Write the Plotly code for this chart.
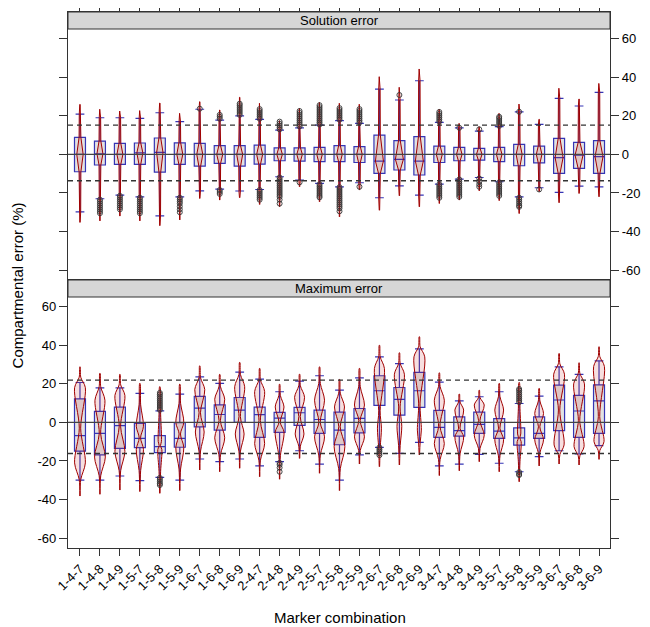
import plotly.graph_objects as go

# Marker combinations (x categories)
labels = ["1-4-7", "1-4-8", "1-4-9", "1-5-7", "1-5-8", "1-5-9", "1-6-7", "1-6-8", "1-6-9",
          "2-4-7", "2-4-8", "2-4-9", "2-5-7", "2-5-8", "2-5-9", "2-6-7", "2-6-8", "2-6-9",
          "3-4-7", "3-4-8", "3-4-9", "3-5-7", "3-5-8", "3-5-9", "3-6-7", "3-6-8", "3-6-9"]

# Solution error panel: box statistics
sol_q1 = [-9.0, -5.5, -5.2, -5.2, -9.2, -5.2, -6.1, -4.7, -6.1, -5.1, -3.3, -3.5, -3.8, -3.8,
          -4.2, -9.9, -8.1, -10.7, -4.2, -3.3, -3.0, -3.8, -5.9, -4.4, -9.9, -7.3, -9.9]
sol_med = [0.0, 0.3, 0.0, 0.8, 1.0, 0.0, 0.0, 0.0, 0.0, 0.0, 0.0, 0.0, 0.0, 0.0,
           0.0, -3.5, -2.6, -3.5, 0.0, 0.0, 0.0, 0.0, 0.0, 0.0, -1.7, -0.4, -1.2]
sol_q3 = [8.8, 6.9, 5.7, 5.9, 8.5, 6.0, 5.7, 4.5, 4.5, 4.8, 3.4, 3.4, 3.6, 4.5,
          4.0, 10.0, 7.1, 9.2, 4.3, 3.6, 3.1, 3.6, 5.2, 4.3, 8.3, 6.2, 7.1]
sol_lo = [-29.8, -23.0, -21.1, -22.0, -31.9, -22.0, -18.9, -18.0, -19.0, -18.2, -11.6, -13.4, -15.0, -16.8,
          -14.7, -22.5, -16.3, -21.1, -15.4, -12.8, -12.0, -14.2, -22.0, -17.3, -19.7, -16.5, -16.8]
sol_hi = [20.9, 19.0, 19.0, 18.7, 21.6, 17.0, 23.4, 17.8, 20.0, 18.2, 12.6, 13.8, 15.2, 17.5,
          16.1, 33.9, 28.2, 38.2, 16.6, 13.8, 12.1, 14.4, 22.1, 15.6, 29.1, 25.1, 32.2]
# violin extents and peak half-width
sol_vmin = [-35.3, -34.5, -32.0, -34.5, -37.0, -34.0, -22.9, -23.7, -22.5, -26.0, -27.2, -16.8, -24.6, -32.4,
            -18.5, -29.0, -21.5, -27.2, -25.5, -23.7, -18.9, -24.0, -30.7, -19.4, -25.1, -20.3, -22.0]
sol_vmax = [25.9, 23.4, 22.5, 22.7, 26.6, 21.3, 27.3, 23.0, 29.6, 26.5, 17.5, 23.9, 27.0, 26.5,
            26.0, 40.3, 34.8, 44.3, 23.5, 16.1, 14.4, 21.3, 26.1, 18.2, 34.3, 28.7, 36.8]
sol_vpeak = [0.16, 0.15, 0.15, 0.15, 0.16, 0.15, 0.15, 0.15, 0.15, 0.15, 0.14, 0.14, 0.14, 0.14,
             0.14, 0.2, 0.2, 0.2, 0.15, 0.14, 0.14, 0.14, 0.15, 0.14, 0.2, 0.2, 0.2]
sol_outliers = [
    [],
    [-23.5, -24.5, -25.5, -26.5, -27.5, -28.5, -29.5, -30.5],
    [-21.5, -22.5, -23.5, -24.5, -25.5, -26.5, -27.5, -28.5],
    [-22.5, -23.5, -24.5, -25.5, -26.5, -27.5, -28.5, -29.5, -30.5],
    [],
    [-22.5, -23.5, -24.5, -25.5, -27.0, -28.5, -30.0],
    [23.7],
    [18.5, 19.5, 20.5, -18.5, -19.5, -20.5],
    [20.5, 21.5, 22.5, 23.5, 24.5, 25.5, 26.3],
    [18.5, 19.5, 20.5, 21.5, 22.5, 23.5, -18.5, -19.5, -20.5, -21.5, -22.5, -23.5],
    [13.0, 14.0, 15.0, 16.0, 17.0, -12.0, -13.0, -14.0, -15.0, -16.0, -17.0, -18.0, -19.0,
     -20.0, -21.0, -22.0, -23.5, -25.5],
    [14.5, 15.5, 16.5, 17.5, 18.5, 19.5, 20.5, 21.5, 22.5, -14.5],
    [15.5, 16.5, 17.5, 18.5, 19.5, 20.5, 21.5, 22.5, 23.5, 24.5, 25.5,
     -15.5, -16.5, -17.5, -18.5, -19.5, -20.5, -21.5, -22.3],
    [18.0, 19.0, 20.0, 21.0, 22.0, 23.0, 24.0, -17.0, -18.0, -19.0, -20.0, -21.0, -22.0,
     -23.0, -24.0, -25.0, -26.0, -27.0, -28.0, -29.5],
    [16.5, 17.5, 18.5, 19.5, 20.5, 21.5, 22.5, 23.5, -16.8],
    [],
    [30.8],
    [],
    [17.0, 18.0, 19.0, 20.0, 21.0, 22.0, -15.5, -16.5, -17.5, -18.5, -19.5, -20.5, -21.5, -22.5],
    [13.8, -13.0, -14.0, -15.0, -16.0, -17.0, -18.0, -19.0, -20.0, -21.0, -22.0],
    [13.0, -12.5, -14.0, -15.5, -16.8],
    [14.8, 15.8, 16.8, 17.8, 18.8, 19.5, -14.5, -15.5, -16.5, -17.5, -18.5, -19.5, -20.5, -21.5],
    [22.1, -22.5, -23.5, -24.5, -25.5, -26.5, -27.2],
    [-18.2],
    [], [], [],
]

# Maximum error panel: box statistics
max_q1 = [-14.9, -16.8, -13.5, -13.1, -15.7, -12.9, -2.3, -4.0, 0.0, -7.8, -5.2, -1.6, -5.7, -11.6,
          -5.4, 8.8, 3.8, 7.8, -7.8, -7.1, -5.7, -8.3, -11.8, -8.3, -4.3, -7.8, -5.7]
max_med = [-6.9, -5.7, -1.7, -8.3, -12.6, -8.3, 7.4, 4.1, 6.4, 4.0, 2.2, 5.0, 1.5, -4.0,
           2.1, 16.4, 11.9, 16.4, -2.6, -4.3, -1.0, -4.5, -8.0, -5.7, 11.6, 5.9, 11.2]
max_q3 = [12.2, 5.7, 7.9, -0.5, -6.9, -0.2, 13.5, 9.1, 12.9, 7.9, 5.2, 7.8, 6.4, 5.3,
          7.2, 24.2, 18.1, 25.9, 6.2, 2.9, 5.3, 1.9, -2.8, 2.9, 19.3, 14.0, 19.5]
max_lo = [-29.9, -29.9, -27.8, -30.2, -28.5, -29.9, -19.0, -20.4, -19.0, -22.6, -20.4, -14.7, -21.6, -29.9,
          -16.9, -13.0, -16.1, -10.4, -22.6, -21.6, -16.6, -21.2, -25.6, -17.8, -14.7, -16.4, -12.1]
max_hi = [20.7, 17.9, 17.9, 15.0, 6.0, 14.7, 23.6, 20.2, 26.1, 22.4, 15.9, 21.4, 24.2, 16.7,
          23.1, 34.0, 30.5, 38.1, 20.9, 11.2, 13.3, 15.9, 9.8, 13.6, 28.8, 24.9, 31.9]
# violin extents and bulge positions / widths
max_vmin = [-38.2, -37.3, -35.1, -35.9, -36.8, -35.4, -24.7, -25.6, -23.8, -28.2, -29.5, -18.7, -26.4, -35.4,
            -21.6, -23.0, -22.1, -16.9, -27.6, -25.1, -20.4, -25.6, -30.8, -22.6, -21.6, -22.1, -19.2]
max_vmax = [28.8, 25.4, 24.9, 20.2, 18.5, 19.8, 29.3, 24.9, 31.1, 28.0, 19.8, 25.0, 28.8, 22.3,
            28.0, 40.0, 36.1, 44.4, 25.7, 14.7, 16.7, 20.2, 20.7, 17.6, 35.7, 30.9, 39.2]
max_bulge_hi = [18.0, 11.5, 14.0, -2.0, -10.0, 0.0, 17.0, 12.0, 18.5, 16.0, 8.0, 13.0, 11.5, 8.0,
                9.0, 28.0, 25.0, 34.0, 11.5, 6.4, 9.0, 6.4, -6.0, 4.6, 25.0, 20.0, 29.0]
max_pinch = [-3.0, -5.7, -2.0, -8.0, -12.0, -6.0, 5.0, 1.0, 3.0, 1.0, 0.0, 3.0, 0.0, -2.3,
             1.0, 6.0, 8.0, 10.0, -2.0, -3.0, 1.0, -3.0, -8.0, -2.3, 6.4, 1.0, 3.0]
max_bulge_lo = [-21.0, -18.0, -15.0, -14.0, -14.0, -13.0, -5.0, -8.0, -6.0, -11.0, -5.0, -6.0, -7.5, -12.6,
                -7.5, -3.0, -2.0, -4.0, -11.0, -7.5, -6.6, -9.0, -10.0, -9.0, -11.7, -12.6, -10.0]
max_w_hi = [0.27, 0.25, 0.25, 0.18, 0.08, 0.2, 0.25, 0.25, 0.25, 0.25, 0.22, 0.25, 0.25, 0.25,
            0.25, 0.25, 0.25, 0.27, 0.25, 0.22, 0.25, 0.22, 0.08, 0.22, 0.27, 0.27, 0.27]
max_w_lo = [0.27, 0.27, 0.25, 0.18, 0.1, 0.2, 0.22, 0.25, 0.22, 0.25, 0.22, 0.22, 0.25, 0.27,
            0.25, 0.1, 0.12, 0.1, 0.25, 0.22, 0.25, 0.22, 0.1, 0.22, 0.25, 0.25, 0.25]
max_outliers = [
    [], [], [], [],
    [6.5, 7.5, 8.5, 9.5, 10.5, 11.5, 12.5, 13.5, 14.5, 15.3, -28.8, -29.8, -30.8, -31.8, -32.5],
    [], [], [], [], [],
    [-21.0, -22.0, -23.5, -25.6],
    [], [], [], [],
    [-13.0, -14.0, -15.0, -16.0, -17.0],
    [], [], [], [], [], [],
    [10.5, 11.5, 12.5, 13.5, 14.5, 15.5, 16.5, 17.3, -25.8, -26.8, -27.3],
    [], [], [], [],
]

# Reference (dashed) lines
sol_ref = [15.2, -13.7]
max_ref = [21.9, -16.1]

y_ticks = [-60, -40, -20, 0, 20, 40, 60]
y_ticktext = ["-60", "-40", "-20", "0", "20", "40", "60"]
idx = list(range(len(labels)))

BOX_LINE = "#3535B5"
VIOLIN_LINE = "#A00000"
VIOLIN_FILL = "rgba(200,40,40,0.15)"


def violin_trace(i, ys, ws, xa, ya, shape):
    xs = [i + w for w in ws] + [i - w for w in reversed(ws)]
    yy = list(ys) + list(reversed(ys))
    return go.Scatter(x=xs, y=yy, mode="lines", fill="toself",
                      line=dict(color=VIOLIN_LINE, width=1, shape=shape, smoothing=0.9),
                      fillcolor=VIOLIN_FILL, hoverinfo="skip", showlegend=False,
                      xaxis=xa, yaxis=ya)


def box_trace(q1, med, q3, lo, hi, xa, ya):
    return go.Box(x=idx, q1=q1, median=med, q3=q3, lowerfence=lo, upperfence=hi,
                  width=0.55, whiskerwidth=0.8, boxpoints=False,
                  fillcolor="#E2E2E2", line=dict(color=BOX_LINE, width=1.2),
                  showlegend=False, xaxis=xa, yaxis=ya)


def outlier_trace(outs, xa, ya):
    xs, ys = [], []
    for i, vals in enumerate(outs):
        for v in vals:
            xs.append(i)
            ys.append(v)
    return go.Scatter(x=xs, y=ys, mode="markers",
                      marker=dict(symbol="circle-open", size=5, color="#333333",
                                  line=dict(width=0.9)),
                      showlegend=False, xaxis=xa, yaxis=ya)


fig = go.Figure()

# boxes first so the violins sit on top
fig.add_trace(box_trace(sol_q1, sol_med, sol_q3, sol_lo, sol_hi, "x", "y"))
fig.add_trace(box_trace(max_q1, max_med, max_q3, max_lo, max_hi, "x2", "y2"))

# Solution error violins (narrow diamond shape)
for i in idx:
    ys = [sol_vmin[i], sol_lo[i], sol_q1[i], sol_med[i], sol_q3[i], sol_hi[i], sol_vmax[i]]
    ws = [0.01, 0.035, 0.045, sol_vpeak[i], 0.045, 0.035, 0.01]
    fig.add_trace(violin_trace(i, ys, ws, "x", "y", "linear"))

# Maximum error violins (bimodal shape)
for i in idx:
    ys = [max_vmin[i], (max_vmin[i] + max_bulge_lo[i]) / 2, max_bulge_lo[i], max_pinch[i],
          max_bulge_hi[i], (max_bulge_hi[i] + max_vmax[i]) / 2, max_vmax[i]]
    ws = [0.01, 0.04, max_w_lo[i], 0.035, max_w_hi[i], 0.04, 0.01]
    fig.add_trace(violin_trace(i, ys, ws, "x2", "y2", "spline"))

fig.add_trace(outlier_trace(sol_outliers, "x", "y"))
fig.add_trace(outlier_trace(max_outliers, "x2", "y2"))

# zero line, dashed reference lines, strips
shapes = []
strip_frac = 17 / 268
for xa, ya, refs in [("x", "y", sol_ref), ("x2", "y2", max_ref)]:
    shapes.append(dict(type="line", xref=xa + " domain", yref=ya, x0=0, x1=1, y0=0, y1=0,
                       line=dict(color="#444444", width=1.2)))
    for r in refs:
        shapes.append(dict(type="line", xref=xa + " domain", yref=ya, x0=0, x1=1, y0=r, y1=r,
                           line=dict(color="#333333", width=1.4, dash="5px,4px")))
    shapes.append(dict(type="rect", xref=xa + " domain", yref=ya + " domain",
                       x0=0, x1=1, y0=1 - strip_frac, y1=1,
                       fillcolor="#D6D6D6", line=dict(color="#333333", width=1)))

annotations = [
    dict(text="Solution error", xref="x domain", yref="y domain", x=0.5, y=1 - strip_frac / 2,
         showarrow=False, font=dict(size=13), yanchor="middle"),
    dict(text="Maximum error", xref="x2 domain", yref="y2 domain", x=0.5, y=1 - strip_frac / 2,
         showarrow=False, font=dict(size=13), yanchor="middle"),
    dict(text="Compartmental error (%)", xref="paper", yref="paper", x=-0.094, y=0.49,
         textangle=-90, showarrow=False, font=dict(size=15), xanchor="center", yanchor="middle"),
    dict(text="Marker combination", xref="paper", yref="paper", x=0.502, y=-0.129,
         showarrow=False, font=dict(size=15), xanchor="center", yanchor="middle"),
]

x_range = [-0.6, 26.55]
y_range = [-65.15, 73.85]
axis_common = dict(showgrid=False, zeroline=False, linecolor="#333333", linewidth=1.2,
                   ticks="outside", tickcolor="#333333", automargin=False)

fig.update_layout(
    width=642, height=619,
    margin=dict(l=60, r=40, t=4, b=79),
    paper_bgcolor="white", plot_bgcolor="white",
    font=dict(family="Liberation Sans, Arial, sans-serif", size=13, color="black"),
    xaxis=dict(domain=[0, 1], anchor="y", side="top", range=x_range, tickvals=idx,
               showticklabels=False, ticklen=7, mirror=True, **axis_common),
    yaxis=dict(domain=[0.5, 1], anchor="x", side="right", range=y_range, tickvals=y_ticks,
               ticktext=y_ticktext, ticklen=8, mirror="ticks", **axis_common),
    xaxis2=dict(domain=[0, 1], anchor="y2", side="bottom", range=x_range, tickvals=idx,
                ticktext=labels, tickangle=-45, ticklen=7, mirror=True,
                tickfont=dict(size=13), **axis_common),
    yaxis2=dict(domain=[0, 0.5], anchor="x2", side="left", range=y_range, tickvals=y_ticks,
                ticktext=y_ticktext, ticklen=8, mirror="ticks", **axis_common),
    shapes=shapes,
    annotations=annotations,
    showlegend=False,
)

fig.write_html("out.html")
